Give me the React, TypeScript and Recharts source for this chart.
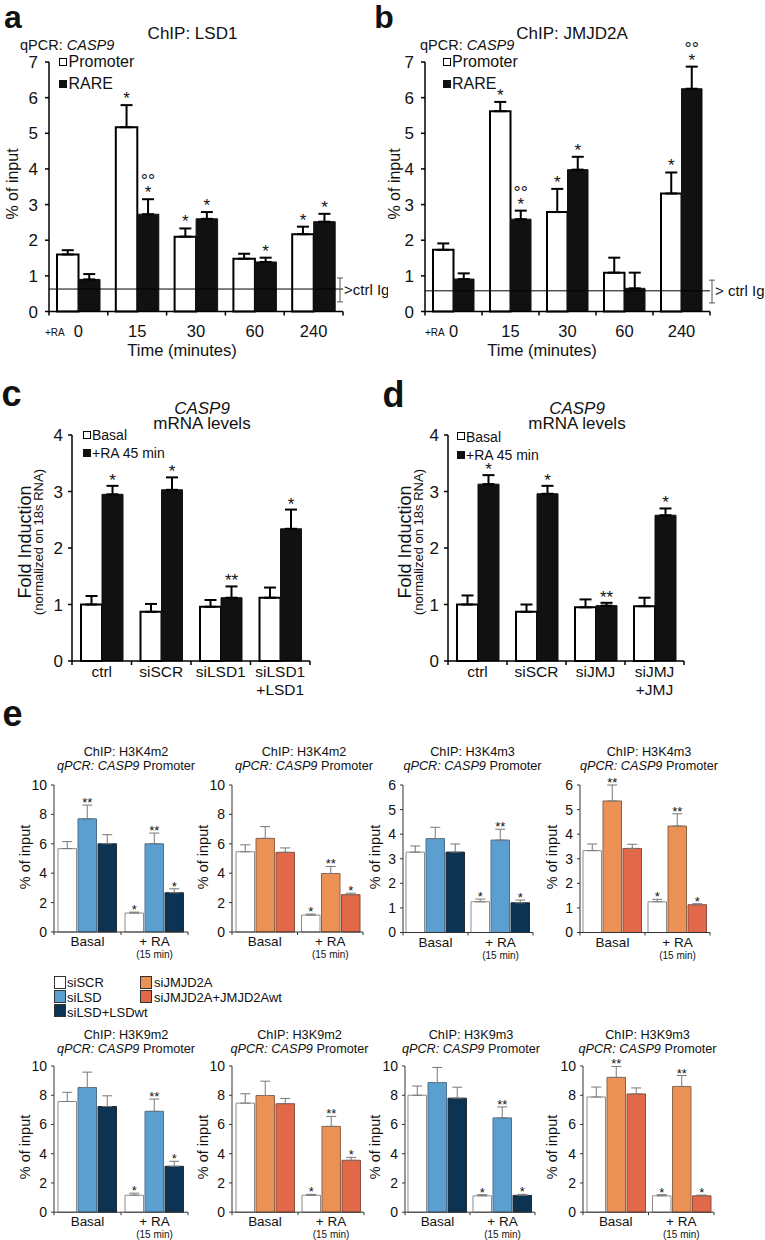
import React from 'react'
import { BarChart, Bar, XAxis, YAxis, ErrorBar, LabelList, ReferenceLine } from 'recharts'

const FONT = '"Liberation Sans", Arial, Helvetica, sans-serif'
const INK = '#111111'

// ---------- a: ChIP LSD1, qPCR CASP9 ----------
const TIME_POINTS = ['0', '15', '30', '60', '240']
const LSD1_PROMOTER = [1.6, 5.17, 2.1, 1.48, 2.17]
const LSD1_PROMOTER_ERR = [0.12, 0.62, 0.23, 0.14, 0.21]
const LSD1_PROMOTER_MARK = ['', '*', '*', '', '*']
const LSD1_RARE = [0.9, 2.73, 2.6, 1.39, 2.52]
const LSD1_RARE_ERR = [0.15, 0.42, 0.19, 0.12, 0.22]
const LSD1_RARE_MARK = ['', '*', '*', '*', '*']
const LSD1_RARE_CIRCLE = ['', '°°', '', '', '']
const LSD1_CTRL_IG = [0.63, 0.27, 0.94] // mean, low, high

// ---------- b: ChIP JMJD2A ----------
const JMJD2A_PROMOTER = [1.73, 5.62, 2.79, 1.09, 3.31]
const JMJD2A_PROMOTER_ERR = [0.18, 0.26, 0.65, 0.42, 0.59]
const JMJD2A_PROMOTER_MARK = ['', '*', '*', '', '*']
const JMJD2A_RARE = [0.91, 2.59, 3.98, 0.65, 6.25]
const JMJD2A_RARE_ERR = [0.16, 0.24, 0.36, 0.44, 0.62]
const JMJD2A_RARE_MARK = ['', '*', '*', '', '*']
const JMJD2A_RARE_CIRCLE = ['', '°°', '', '', '°°']
const JMJD2A_CTRL_IG = [0.58, 0.24, 0.88]

// ---------- c: CASP9 mRNA, LSD1 knock-down ----------
const LSD_KNOCKDOWNS = ['ctrl', 'siSCR', 'siLSD1', 'siLSD1 +LSD1']
const LSD_KNOCKDOWN_LINES = [['ctrl'], ['siSCR'], ['siLSD1'], ['siLSD1', '+LSD1']]
const LSD_BASAL = [1.0, 0.87, 0.96, 1.12]
const LSD_BASAL_ERR = [0.15, 0.14, 0.12, 0.18]
const LSD_RA = [2.95, 3.03, 1.12, 2.34]
const LSD_RA_ERR = [0.15, 0.22, 0.2, 0.34]
const LSD_RA_MARK = ['*', '*', '**', '*']

// ---------- d: CASP9 mRNA, JMJD2A knock-down ----------
const JMJ_KNOCKDOWNS = ['ctrl', 'siSCR', 'siJMJ', 'siJMJ +JMJ']
const JMJ_KNOCKDOWN_LINES = [['ctrl'], ['siSCR'], ['siJMJ'], ['siJMJ', '+JMJ']]
const JMJ_BASAL = [1.0, 0.87, 0.95, 0.97]
const JMJ_BASAL_ERR = [0.16, 0.13, 0.14, 0.15]
const JMJ_RA = [3.13, 2.96, 0.98, 2.58]
const JMJ_RA_ERR = [0.16, 0.14, 0.05, 0.12]
const JMJ_RA_MARK = ['*', '*', '**', '*']

// ---------- e: histone marks on CASP9 promoter ----------
const E_GROUPS = ['Basal', '+ RA']
const E_GROUP_LINES = [['Basal'], ['+ RA', '(15 min)']]
// rows: siSCR, knock-down, knock-down + wt ; columns: Basal, + RA
const H3K4M2_LSD = [[5.67, 1.29], [7.7, 6.0], [6.0, 2.67]]
const H3K4M2_LSD_ERR = [[0.48, 0.06], [0.93, 0.73], [0.62, 0.27]]
const H3K4M2_LSD_MARK = [['', '*'], ['**', '**'], ['', '*']]
const H3K4M2_JMJ = [[5.46, 1.15], [6.37, 3.98], [5.42, 2.54]]
const H3K4M2_JMJ_ERR = [[0.47, 0.07], [0.8, 0.48], [0.3, 0.1]]
const H3K4M2_JMJ_MARK = [['', '*'], ['', '**'], ['', '*']]
const H3K4M3_LSD = [[3.27, 1.25], [3.82, 3.76], [3.27, 1.21]]
const H3K4M3_LSD_ERR = [[0.25, 0.11], [0.46, 0.44], [0.33, 0.11]]
const H3K4M3_LSD_MARK = [['', '*'], ['', '**'], ['', '*']]
const H3K4M3_JMJ = [[3.33, 1.25], [5.35, 4.33], [3.42, 1.13]]
const H3K4M3_JMJ_ERR = [[0.27, 0.1], [0.65, 0.5], [0.17, 0.04]]
const H3K4M3_JMJ_MARK = [['', '*'], ['**', '**'], ['', '*']]
const H3K9M2_LSD = [[7.57, 1.16], [8.53, 6.9], [7.23, 3.14]]
const H3K9M2_LSD_ERR = [[0.63, 0.14], [1.05, 0.84], [0.73, 0.34]]
const H3K9M2_LSD_MARK = [['', '*'], ['', '**'], ['', '*']]
const H3K9M2_JMJ = [[7.46, 1.16], [7.98, 5.87], [7.42, 3.55]]
const H3K9M2_JMJ_ERR = [[0.64, 0.06], [0.98, 0.68], [0.36, 0.2]]
const H3K9M2_JMJ_MARK = [['', '*'], ['', '**'], ['', '*']]
const H3K9M3_LSD = [[8.0, 1.12], [8.87, 6.45], [7.8, 1.15]]
const H3K9M3_LSD_ERR = [[0.63, 0.08], [1.03, 0.75], [0.75, 0.07]]
const H3K9M3_LSD_MARK = [['', '*'], ['', '**'], ['', '*']]
const H3K9M3_JMJ = [[7.88, 1.12], [9.22, 8.6], [8.09, 1.12]]
const H3K9M3_JMJ_ERR = [[0.68, 0.08], [0.75, 0.75], [0.41, 0.05]]
const H3K9M3_JMJ_MARK = [['', '*'], ['**', '**'], ['', '*']]

const TICKS_7 = [0, 1, 2, 3, 4, 5, 6, 7]
const TICKS_4 = [0, 1, 2, 3, 4]
const TICKS_10 = [0, 2, 4, 6, 8, 10]
const TICKS_6 = [0, 1, 2, 3, 4, 5, 6]

const WHITE = { fill: '#ffffff', stroke: '#8c8c8c' }
const LSD_KD = { fill: '#5a9fd0', stroke: '#4f708c' }
const LSD_WT = { fill: '#0c3352', stroke: '#1e2b36' }
const JMJ_KD = { fill: '#ec9155', stroke: '#8c6248' }
const JMJ_WT = { fill: '#e2684a', stroke: '#8a4c3c' }

type Box = { left: number; top: number; right: number; bottom: number; max: number; ticks: number[] }
type Series = {
  values: number[]
  errors: number[]
  marks: string[]
  circles?: string[]
  fill: string
  stroke: string
  strokeWidth: number
}
type Look = {
  axis: string
  axisWidth: number
  yFont: number
  yTickLen: number
  yTickGap: number
  xTickLen: number
  labelSizes: number[]
  labelDys: number[]
  err: string
  errWidth: number
  errCap: number
  markFont: number
  markGap: number
  circleFont: number
  circleGap: number
}

const LOOK_AB: Look = {
  axis: '#000', axisWidth: 1.5, yFont: 17, yTickLen: 4, yTickGap: 7, xTickLen: 4,
  labelSizes: [16.5], labelDys: [19.5], err: '#000', errWidth: 2, errCap: 6,
  markFont: 17, markGap: 1, circleFont: 18, circleGap: 11,
}
const LOOK_CD: Look = {
  axis: '#000', axisWidth: 1.5, yFont: 17, yTickLen: 4, yTickGap: 5, xTickLen: 4,
  labelSizes: [15.5, 15.5], labelDys: [10, 28], err: '#000', errWidth: 2, errCap: 6,
  markFont: 17, markGap: 0, circleFont: 18, circleGap: 11,
}
const LOOK_E: Look = {
  axis: '#333', axisWidth: 1, yFont: 14, yTickLen: 3, yTickGap: 4, xTickLen: 3,
  labelSizes: [13.5, 10], labelDys: [9, 22.3], err: '#777', errWidth: 1, errCap: 5,
  markFont: 13, markGap: -2, circleFont: 14, circleGap: 10,
}

function GroupedBars(props: {
  box: Box
  categories: string[]
  labels: string[][]
  series: Series[]
  barSize: number
  barGap: number
  look: Look
  pad: number[] // top, right, bottom
  extra?: (ppu: number) => React.ReactNode
}) {
  const { box, categories, labels, series, barSize, barGap, look, pad, extra } = props
  const yWidth = 44
  const [padTop, padRight, padBottom] = pad
  const plotW = box.right - box.left
  const plotH = box.bottom - box.top
  const ppu = plotH / box.max
  const band = plotW / categories.length

  const data = categories.map((name, i) => {
    const row: Record<string, unknown> = { name }
    series.forEach((s, j) => {
      row[`v${j}`] = s.values[i]
      row[`e${j}`] = [0, s.errors[i]]
    })
    return row
  })

  // category labels, with the tick marks drawn on the band edges
  const tick = (p: any) => {
    const { x, y, index } = p
    const half = band / 2
    const lines = labels[index] || []
    return (
      <g>
        <line x1={x - half} x2={x - half} y1={y} y2={y + look.xTickLen} stroke={look.axis} strokeWidth={look.axisWidth} />
        {index === categories.length - 1 && (
          <line x1={x + half} x2={x + half} y1={y} y2={y + look.xTickLen} stroke={look.axis} strokeWidth={look.axisWidth} />
        )}
        <text textAnchor="middle" dominantBaseline="central" fontFamily={FONT} fill={INK}>
          {lines.map((t, k) => (
            <tspan key={k} x={x} y={y + look.labelDys[k]} fontSize={look.labelSizes[k]}>
              {t}
            </tspan>
          ))}
        </text>
      </g>
    )
  }

  // significance marks: star(s) right above the error bar, circles above the star
  const markContent = (s: Series) => (p: any) => {
    const i = p.index
    const vb = p.viewBox && typeof p.viewBox.x === 'number' ? p.viewBox : p
    if (typeof vb.x !== 'number' || i == null) return <g />
    const mark = s.marks[i]
    const circle = s.circles ? s.circles[i] : ''
    if (!mark && !circle) return <g />
    const cx = vb.x + vb.width / 2
    const base = padTop + plotH - (s.values[i] + s.errors[i]) * ppu - look.markGap
    return (
      <text textAnchor="middle" fontFamily={FONT} fill={INK}>
        {circle ? (
          <tspan x={cx} y={base - look.circleGap} fontSize={look.circleFont}>
            {circle}
          </tspan>
        ) : null}
        {mark ? (
          <tspan x={cx} y={base} fontSize={look.markFont}>
            {mark}
          </tspan>
        ) : null}
      </text>
    )
  }

  return (
    <div style={{ position: 'absolute', left: box.left - yWidth, top: box.top - padTop }}>
      <BarChart
        width={yWidth + plotW + padRight}
        height={padTop + plotH + padBottom}
        data={data}
        margin={{ top: padTop, right: padRight, bottom: 0, left: 0 }}
        barSize={barSize}
        barGap={barGap}
      >
        <XAxis
          dataKey="name"
          type="category"
          height={padBottom}
          interval={0}
          tickSize={0}
          tickMargin={0}
          tickLine={false}
          axisLine={{ stroke: look.axis, strokeWidth: look.axisWidth }}
          tick={tick}
        />
        <YAxis
          type="number"
          domain={[0, box.max]}
          ticks={box.ticks}
          interval={0}
          width={yWidth}
          tickSize={look.yTickLen}
          tickMargin={look.yTickGap}
          axisLine={{ stroke: look.axis, strokeWidth: look.axisWidth }}
          tickLine={{ stroke: look.axis, strokeWidth: look.axisWidth }}
          tick={{ fontSize: look.yFont, fill: INK, fontFamily: FONT }}
        />
        {extra ? extra(ppu) : null}
        {series.map((s, j) => (
          <Bar
            key={j}
            dataKey={`v${j}`}
            fill={s.fill}
            stroke={s.stroke}
            strokeWidth={s.strokeWidth}
            barSize={barSize}
            isAnimationActive={false}
          >
            <ErrorBar dataKey={`e${j}`} direction="y" width={look.errCap} stroke={look.err} strokeWidth={look.errWidth} />
            <LabelList dataKey={`v${j}`} content={markContent(s)} />
          </Bar>
        ))}
      </BarChart>
    </div>
  )
}

function ctrlIgLabel(ig: number[], ppu: number, text: string, beamDx: number, textDx: number) {
  return (p: any) => {
    const vb = p.viewBox
    if (!vb || typeof vb.x !== 'number') return <g />
    const xe = vb.x + vb.width
    const y = vb.y
    const yHi = y - (ig[2] - ig[0]) * ppu
    const yLo = y + (ig[0] - ig[1]) * ppu
    const bx = xe + beamDx
    return (
      <g>
        <line x1={bx} x2={bx} y1={yHi} y2={yLo} stroke="#555" strokeWidth={1} />
        <line x1={bx - 3} x2={bx + 3} y1={yHi} y2={yHi} stroke="#555" strokeWidth={1} />
        <line x1={bx - 3} x2={bx + 3} y1={yLo} y2={yLo} stroke="#555" strokeWidth={1} />
        <text x={xe + textDx} y={y} dominantBaseline="central" fontSize={15} fontFamily={FONT} fill={INK}>
          {text}
        </text>
      </g>
    )
  }
}

function Txt(props: {
  x: number
  y: number
  size: number
  anchor?: 'start' | 'middle' | 'end'
  rotate?: boolean
  bold?: boolean
  italic?: boolean
  lh?: number | string
  children: React.ReactNode
}) {
  const { x, y, size, anchor = 'middle', rotate, bold, italic, lh = 1, children } = props
  const tx = anchor === 'middle' ? '-50%' : anchor === 'end' ? '-100%' : '0'
  return (
    <div
      style={{
        position: 'absolute',
        left: x,
        top: y,
        fontSize: size,
        lineHeight: lh,
        fontFamily: FONT,
        whiteSpace: 'nowrap',
        textAlign: 'center',
        fontWeight: bold ? 700 : 400,
        fontStyle: italic ? 'italic' : 'normal',
        color: INK,
        transform: rotate ? 'translate(-50%,-50%) rotate(-90deg)' : `translate(${tx},-50%)`,
      }}
    >
      {children}
    </div>
  )
}

function Swatch(props: { x: number; y: number; w: number; h: number; fill: string; stroke: string; sw?: number }) {
  const { x, y, w, h, fill, stroke, sw = 1 } = props
  return (
    <div
      style={{
        position: 'absolute',
        left: x,
        top: y,
        width: w,
        height: h,
        boxSizing: 'border-box',
        background: fill,
        border: `${sw}px solid ${stroke}`,
      }}
    />
  )
}

function eSeries(values: number[][], errors: number[][], marks: string[][], kd: typeof WHITE, wt: typeof WHITE): Series[] {
  const looks = [WHITE, kd, wt]
  return looks.map((c, j) => ({
    values: values[j],
    errors: errors[j],
    marks: marks[j],
    fill: c.fill,
    stroke: c.stroke,
    strokeWidth: 1,
  }))
}

function ETitle(props: { x: number; y: number; mark: string }) {
  return (
    <Txt x={props.x} y={props.y + 7} size={12.7} lh="14px">
      <div>ChIP: {props.mark}</div>
      <div>
        <i>qPCR: CASP9</i> Promoter
      </div>
    </Txt>
  )
}

function MrnaTitle(props: { x: number }) {
  return (
    <Txt x={props.x} y={415.5} size={17} lh="15px">
      <div style={{ fontStyle: 'italic' }}>CASP9</div>
      <div>mRNA levels</div>
    </Txt>
  )
}

function FoldLabel(props: { x: number }) {
  return (
    <Txt x={props.x} y={542} size={18} lh="13px" rotate>
      <div>Fold Induction</div>
      <div style={{ fontSize: 13 }}>(normalized on 18s RNA)</div>
    </Txt>
  )
}

const E_ROW1 = { top: 785, bottom: 932 }
const E_ROW2 = { top: 1065.5, bottom: 1211.7 }

export default function App() {
  const abSeries = (p: number[], pe: number[], pm: string[], r: number[], re: number[], rm: string[], rc: string[]): Series[] => [
    { values: p, errors: pe, marks: pm, fill: '#ffffff', stroke: '#000', strokeWidth: 2 },
    { values: r, errors: re, marks: rm, circles: rc, fill: '#111', stroke: '#111', strokeWidth: 1 },
  ]
  const cdSeries = (b: number[], be: number[], r: number[], re: number[], rm: string[]): Series[] => [
    { values: b, errors: be, marks: b.map(() => ''), fill: '#ffffff', stroke: '#000', strokeWidth: 2 },
    { values: r, errors: re, marks: rm, fill: '#111', stroke: '#111', strokeWidth: 1 },
  ]

  return (
    <div
      style={{
        position: 'absolute',
        left: 0,
        top: 0,
        width: 765,
        height: 1240,
        background: '#fff',
        overflow: 'hidden',
        fontFamily: FONT,
        color: INK,
      }}
    >
      {/* a */}
      <GroupedBars
        box={{ left: 49, top: 62, right: 343, bottom: 311.5, max: 7, ticks: TICKS_7 }}
        categories={TIME_POINTS}
        labels={TIME_POINTS.map((t) => [t])}
        series={abSeries(LSD1_PROMOTER, LSD1_PROMOTER_ERR, LSD1_PROMOTER_MARK, LSD1_RARE, LSD1_RARE_ERR, LSD1_RARE_MARK, LSD1_RARE_CIRCLE)}
        barSize={21.5}
        barGap={0}
        look={LOOK_AB}
        pad={[30, 45, 30]}
        extra={(ppu) => (
          <ReferenceLine y={LSD1_CTRL_IG[0]} stroke="#000" strokeWidth={1} label={ctrlIgLabel(LSD1_CTRL_IG, ppu, '>ctrl Ig', -3, 1)} />
        )}
      />
      {/* b */}
      <GroupedBars
        box={{ left: 425, top: 62, right: 710, bottom: 311.5, max: 7, ticks: TICKS_7 }}
        categories={TIME_POINTS}
        labels={TIME_POINTS.map((t) => [t])}
        series={abSeries(JMJD2A_PROMOTER, JMJD2A_PROMOTER_ERR, JMJD2A_PROMOTER_MARK, JMJD2A_RARE, JMJD2A_RARE_ERR, JMJD2A_RARE_MARK, JMJD2A_RARE_CIRCLE)}
        barSize={20.5}
        barGap={0}
        look={LOOK_AB}
        pad={[30, 55, 30]}
        extra={(ppu) => (
          <ReferenceLine y={JMJD2A_CTRL_IG[0]} stroke="#000" strokeWidth={1} label={ctrlIgLabel(JMJD2A_CTRL_IG, ppu, '> ctrl Ig', 2, 5)} />
        )}
      />
      {/* c */}
      <GroupedBars
        box={{ left: 72, top: 435, right: 310, bottom: 661, max: 4, ticks: TICKS_4 }}
        categories={LSD_KNOCKDOWNS}
        labels={LSD_KNOCKDOWN_LINES}
        series={cdSeries(LSD_BASAL, LSD_BASAL_ERR, LSD_RA, LSD_RA_ERR, LSD_RA_MARK)}
        barSize={21}
        barGap={0}
        look={LOOK_CD}
        pad={[20, 10, 40]}
      />
      {/* d */}
      <GroupedBars
        box={{ left: 448, top: 435, right: 684, bottom: 661, max: 4, ticks: TICKS_4 }}
        categories={JMJ_KNOCKDOWNS}
        labels={JMJ_KNOCKDOWN_LINES}
        series={cdSeries(JMJ_BASAL, JMJ_BASAL_ERR, JMJ_RA, JMJ_RA_ERR, JMJ_RA_MARK)}
        barSize={21}
        barGap={0}
        look={LOOK_CD}
        pad={[20, 10, 40]}
      />
      {/* e, top row */}
      <GroupedBars
        box={{ left: 54, top: E_ROW1.top, right: 188, bottom: E_ROW1.bottom, max: 10, ticks: TICKS_10 }}
        categories={E_GROUPS}
        labels={E_GROUP_LINES}
        series={eSeries(H3K4M2_LSD, H3K4M2_LSD_ERR, H3K4M2_LSD_MARK, LSD_KD, LSD_WT)}
        barSize={18.5}
        barGap={1.5}
        look={LOOK_E}
        pad={[16, 6, 30]}
      />
      <GroupedBars
        box={{ left: 232, top: E_ROW1.top, right: 363, bottom: E_ROW1.bottom, max: 10, ticks: TICKS_10 }}
        categories={E_GROUPS}
        labels={E_GROUP_LINES}
        series={eSeries(H3K4M2_JMJ, H3K4M2_JMJ_ERR, H3K4M2_JMJ_MARK, JMJ_KD, JMJ_WT)}
        barSize={18.5}
        barGap={1.5}
        look={LOOK_E}
        pad={[16, 6, 30]}
      />
      <GroupedBars
        box={{ left: 403, top: E_ROW1.top, right: 533, bottom: E_ROW1.bottom + 0.5, max: 6, ticks: TICKS_6 }}
        categories={E_GROUPS}
        labels={E_GROUP_LINES}
        series={eSeries(H3K4M3_LSD, H3K4M3_LSD_ERR, H3K4M3_LSD_MARK, LSD_KD, LSD_WT)}
        barSize={18.5}
        barGap={1.5}
        look={LOOK_E}
        pad={[16, 6, 30]}
      />
      <GroupedBars
        box={{ left: 580, top: E_ROW1.top, right: 710, bottom: E_ROW1.bottom + 0.5, max: 6, ticks: TICKS_6 }}
        categories={E_GROUPS}
        labels={E_GROUP_LINES}
        series={eSeries(H3K4M3_JMJ, H3K4M3_JMJ_ERR, H3K4M3_JMJ_MARK, JMJ_KD, JMJ_WT)}
        barSize={18.5}
        barGap={1.5}
        look={LOOK_E}
        pad={[16, 6, 30]}
      />
      {/* e, bottom row */}
      <GroupedBars
        box={{ left: 54, top: E_ROW2.top, right: 188, bottom: E_ROW2.bottom, max: 10, ticks: TICKS_10 }}
        categories={E_GROUPS}
        labels={E_GROUP_LINES}
        series={eSeries(H3K9M2_LSD, H3K9M2_LSD_ERR, H3K9M2_LSD_MARK, LSD_KD, LSD_WT)}
        barSize={18.5}
        barGap={1.5}
        look={LOOK_E}
        pad={[16, 6, 28]}
      />
      <GroupedBars
        box={{ left: 232, top: E_ROW2.top, right: 364, bottom: E_ROW2.bottom, max: 10, ticks: TICKS_10 }}
        categories={E_GROUPS}
        labels={E_GROUP_LINES}
        series={eSeries(H3K9M2_JMJ, H3K9M2_JMJ_ERR, H3K9M2_JMJ_MARK, JMJ_KD, JMJ_WT)}
        barSize={18.5}
        barGap={1.5}
        look={LOOK_E}
        pad={[16, 6, 28]}
      />
      <GroupedBars
        box={{ left: 405, top: E_ROW2.top, right: 535, bottom: E_ROW2.bottom, max: 10, ticks: TICKS_10 }}
        categories={E_GROUPS}
        labels={E_GROUP_LINES}
        series={eSeries(H3K9M3_LSD, H3K9M3_LSD_ERR, H3K9M3_LSD_MARK, LSD_KD, LSD_WT)}
        barSize={18.5}
        barGap={1.5}
        look={LOOK_E}
        pad={[16, 6, 28]}
      />
      <GroupedBars
        box={{ left: 583, top: E_ROW2.top, right: 714, bottom: E_ROW2.bottom, max: 10, ticks: TICKS_10 }}
        categories={E_GROUPS}
        labels={E_GROUP_LINES}
        series={eSeries(H3K9M3_JMJ, H3K9M3_JMJ_ERR, H3K9M3_JMJ_MARK, JMJ_KD, JMJ_WT)}
        barSize={18.5}
        barGap={1.5}
        look={LOOK_E}
        pad={[16, 6, 28]}
      />

      {/* ---- text and legends ---- */}
      <Txt x={13} y={18} size={32} lh={0.6} bold>a</Txt>
      <Txt x={384} y={18} size={32} lh={0.6} bold>b</Txt>
      <Txt x={11.5} y={394} size={36} lh={0.6} bold>c</Txt>
      <Txt x={393.5} y={394.5} size={36} lh={0.6} bold>d</Txt>
      <Txt x={12.5} y={714} size={36} lh={0.6} bold>e</Txt>

      {/* a */}
      <Txt x={192.5} y={33} size={17}>ChIP: LSD1</Txt>
      <Txt x={20} y={44.5} size={14.5} anchor="start">qPCR: <i>CASP9</i></Txt>
      <Swatch x={59} y={58} w={8} h={8} fill="#fff" stroke="#000" sw={1.5} />
      <Swatch x={59} y={80} w={8} h={8} fill="#111" stroke="#111" />
      <Txt x={68.5} y={62} size={16} anchor="start">Promoter</Txt>
      <Txt x={68.5} y={84} size={16} anchor="start">RARE</Txt>
      <Txt x={13} y={184} size={16} rotate>% of input</Txt>
      <Txt x={45} y={333} size={10} anchor="start">+RA</Txt>
      <Txt x={182} y={349.5} size={16.5}>Time (minutes)</Txt>

      {/* b */}
      <Txt x={572} y={33} size={17}>ChIP: JMJD2A</Txt>
      <Txt x={420} y={44.5} size={14.5} anchor="start">qPCR: <i>CASP9</i></Txt>
      <Swatch x={443} y={58} w={8} h={8} fill="#fff" stroke="#000" sw={1.5} />
      <Swatch x={443} y={80} w={8} h={8} fill="#111" stroke="#111" />
      <Txt x={452} y={62} size={16} anchor="start">Promoter</Txt>
      <Txt x={452} y={84} size={16} anchor="start">RARE</Txt>
      <Txt x={395} y={184} size={16} rotate>% of input</Txt>
      <Txt x={425} y={333} size={10} anchor="start">+RA</Txt>
      <Txt x={542} y={349.5} size={16.5}>Time (minutes)</Txt>

      {/* c */}
      <MrnaTitle x={202} />
      <Swatch x={83} y={431} w={8} h={8} fill="#fff" stroke="#000" sw={1.5} />
      <Swatch x={83} y={449} w={8} h={8} fill="#111" stroke="#111" />
      <Txt x={92} y={435} size={14} anchor="start">Basal</Txt>
      <Txt x={92} y={453} size={14} anchor="start">+RA 45 min</Txt>
      <FoldLabel x={31.5} />

      {/* d */}
      <MrnaTitle x={577} />
      <Swatch x={457} y={432} w={8} h={8} fill="#fff" stroke="#000" sw={1.5} />
      <Swatch x={457} y={451} w={8} h={8} fill="#111" stroke="#111" />
      <Txt x={466} y={436.5} size={14} anchor="start">Basal</Txt>
      <Txt x={466} y={455} size={14} anchor="start">+RA 45 min</Txt>
      <FoldLabel x={411.5} />

      {/* e titles */}
      <ETitle x={126} y={752} mark="H3K4m2" />
      <ETitle x={304} y={752} mark="H3K4m2" />
      <ETitle x={472.5} y={752} mark="H3K4m3" />
      <ETitle x={649} y={752} mark="H3K4m3" />
      <ETitle x={126} y={1034.5} mark="H3K9m2" />
      <ETitle x={299.5} y={1034.5} mark="H3K9m2" />
      <ETitle x={471} y={1034.5} mark="H3K9m3" />
      <ETitle x={647.5} y={1034.5} mark="H3K9m3" />

      {[25, 203, 375, 552].map((x) => (
        <React.Fragment key={x}>
          <Txt x={x} y={857} size={14.5} rotate>% of input</Txt>
          <Txt x={x} y={1147} size={14.5} rotate>% of input</Txt>
        </React.Fragment>
      ))}

      {/* e legend */}
      <Swatch x={53.5} y={976} w={12} h={13} fill={WHITE.fill} stroke="#333" />
      <Swatch x={53.5} y={990} w={12} h={13} fill={LSD_KD.fill} stroke="#333" />
      <Swatch x={53.5} y={1004} w={12} h={13} fill={LSD_WT.fill} stroke="#333" />
      <Txt x={67} y={981.5} size={13} anchor="start">siSCR</Txt>
      <Txt x={67} y={996.5} size={13} anchor="start">siLSD</Txt>
      <Txt x={67} y={1011.5} size={13} anchor="start">siLSD+LSDwt</Txt>
      <Swatch x={139.5} y={976} w={12} h={13} fill={JMJ_KD.fill} stroke="#333" />
      <Swatch x={139.5} y={990} w={12} h={13} fill={JMJ_WT.fill} stroke="#333" />
      <Txt x={154} y={981.5} size={13} anchor="start">siJMJD2A</Txt>
      <Txt x={154} y={996.5} size={13} anchor="start">siJMJD2A+JMJD2Awt</Txt>
    </div>
  )
}
